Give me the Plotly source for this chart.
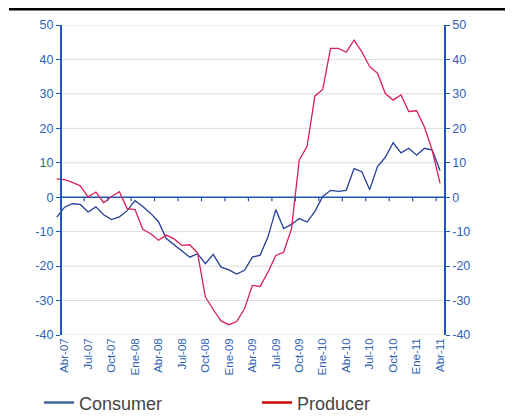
import plotly.graph_objects as go

months = ["Mar-07", "Abr-07", "May-07", "Jun-07", "Jul-07", "Ago-07", "Sep-07", "Oct-07", "Nov-07", "Dic-07",
          "Ene-08", "Feb-08", "Mar-08", "Abr-08", "May-08", "Jun-08", "Jul-08", "Ago-08", "Sep-08", "Oct-08", "Nov-08", "Dic-08",
          "Ene-09", "Feb-09", "Mar-09", "Abr-09", "May-09", "Jun-09", "Jul-09", "Ago-09", "Sep-09", "Oct-09", "Nov-09", "Dic-09",
          "Ene-10", "Feb-10", "Mar-10", "Abr-10", "May-10", "Jun-10", "Jul-10", "Ago-10", "Sep-10", "Oct-10", "Nov-10", "Dic-10",
          "Ene-11", "Feb-11", "Mar-11", "Abr-11"]

consumer = [-5.8, -2.9, -1.9, -2.1, -4.3, -2.8, -5.1, -6.5, -5.7, -3.9,
            -1.0, -2.7, -4.7, -7.1, -12.0, -13.8, -15.4, -17.4, -16.4, -19.3, -16.6, -20.3,
            -21.1, -22.3, -21.2, -17.4, -16.8, -11.5, -3.6, -9.1, -7.9, -6.2, -7.2, -4.1,
            0.2, 2.0, 1.7, 2.0, 8.3, 7.4, 2.2, 8.9, 11.6, 15.8, 12.9, 14.2,
            12.2, 14.2, 13.7, 7.7]

producer = [5.3, 5.1, 4.3, 3.3, 0.1, 1.5, -1.6, 0.2, 1.6, -3.3,
            -3.6, -9.3, -10.6, -12.5, -11.0, -12.1, -14.0, -13.8, -16.2, -29.0, -32.6, -35.9,
            -37.0, -36.1, -32.4, -25.6, -25.9, -21.7, -16.9, -16.0, -9.2, 10.8, 14.8, 29.4,
            31.3, 43.2, 43.2, 42.1, 45.6, 42.2, 37.9, 36.0, 30.1, 28.2, 29.7, 24.9,
            25.1, 20.4, 13.5, 4.0]

tick_labels = ["Abr-07", "Jul-07", "Oct-07", "Ene-08", "Abr-08", "Jul-08", "Oct-08", "Ene-09", "Abr-09",
               "Jul-09", "Oct-09", "Ene-10", "Abr-10", "Jul-10", "Oct-10", "Ene-11", "Abr-11"]

y_ticks = [-40, -30, -20, -10, 0, 10, 20, 30, 40, 50]
y_tick_text = ["-40", "-30", "-20", "-10", "0", "10", "20", "30", "40", "50"]

AXIS = "#1f58b3"
LABEL = "#2e62b5"
FONT = "Liberation Sans, Arial, sans-serif"

X_LO, X_HI = -0.1, 49.5
AX_LEFT = 0.5

fig = go.Figure()

fig.add_trace(go.Scatter(x=months, y=consumer, mode="lines", name="Consumer", showlegend=False,
                         line=dict(color="#233f96", width=1.3)))
fig.add_trace(go.Scatter(x=months, y=producer, mode="lines", name="Producer", showlegend=False,
                         line=dict(color="#d8205c", width=1.3), yaxis="y2"))

# legend entries (swatch colours differ from drawn lines in the original)
fig.add_trace(go.Scatter(x=[None], y=[None], mode="lines", name="Consumer",
                         line=dict(color="#3f64a0", width=2.5)))
fig.add_trace(go.Scatter(x=[None], y=[None], mode="lines", name="Producer",
                         line=dict(color="#cc0000", width=2.5)))

shapes = []
for v in y_ticks:
    if v == 0:
        continue
    shapes.append(dict(type="line", xref="x", yref="y", x0=AX_LEFT, x1=X_HI, y0=v, y1=v,
                       line=dict(color="#dcdcdc", width=1), layer="below"))
# zero axis line
shapes.append(dict(type="line", xref="x", yref="y", x0=AX_LEFT, x1=X_HI, y0=0, y1=0,
                   line=dict(color=AXIS, width=1.5), layer="below"))
# category tick marks on zero line
for k in range(17):
    xv = AX_LEFT + 3 * k
    shapes.append(dict(type="line", xref="x", yref="y", ysizemode="pixel", yanchor=0,
                       x0=xv, x1=xv, y0=0, y1=-4, line=dict(color=AXIS, width=1.2)))
# top black rule
shapes.append(dict(type="line", xref="paper", yref="paper", x0=-0.1211, x1=1.2, y0=1.0516, y1=1.0516,
                   line=dict(color="black", width=3)))

pos_left = (AX_LEFT - X_LO) / (X_HI - X_LO)

# the page body adds an 8px margin, so the figure is 8px smaller and shifted
fig.update_layout(
    width=505, height=411,
    margin=dict(l=48, r=69, t=17, b=84, autoexpand=False),
    paper_bgcolor="white", plot_bgcolor="white",
    font=dict(family=FONT, color=LABEL),
    shapes=shapes,
    xaxis=dict(type="category", range=[X_LO, X_HI], tickmode="array", tickvals=tick_labels,
               ticktext=tick_labels, tickangle=-90, showgrid=False, showline=False, zeroline=False,
               ticks="", automargin=False, tickfont=dict(size=11.5, color=LABEL, family=FONT)),
    yaxis=dict(range=[-40, 50], tickmode="array", tickvals=y_ticks, ticktext=y_tick_text,
               anchor="free", position=pos_left, automargin=False,
               showline=True, linecolor=AXIS, linewidth=1.5, ticks="outside", ticklen=4,
               tickcolor=AXIS, tickwidth=1.2, showgrid=False, zeroline=False,
               tickfont=dict(size=12.5, color=LABEL, family=FONT)),
    yaxis2=dict(range=[-40, 50], tickmode="array", tickvals=y_ticks, ticktext=y_tick_text,
                overlaying="y", side="right", anchor="x", automargin=False,
                showline=True, linecolor=AXIS, linewidth=1.5, ticks="outside", ticklen=4,
                tickcolor=AXIS, tickwidth=1.2, showgrid=False, zeroline=False,
                tickfont=dict(size=12.5, color=LABEL, family=FONT)),
    legend=dict(orientation="h", x=-0.0438, xanchor="left", y=-0.219, yanchor="middle",
                entrywidth=173, entrywidthmode="pixels",
                font=dict(size=18, color="#444444", family=FONT), bgcolor="rgba(0,0,0,0)"),
)

fig.write_html("out.html")
